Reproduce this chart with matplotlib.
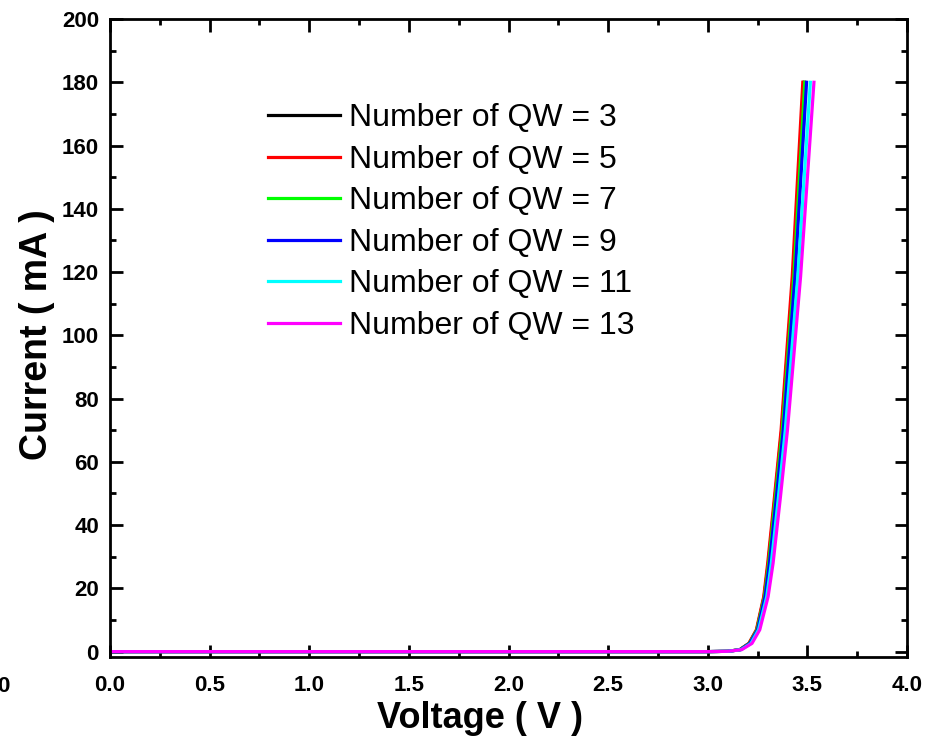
import matplotlib

matplotlib.use("Agg")

import matplotlib.pyplot as plt  # noqa: E402
from matplotlib.ticker import MultipleLocator  # noqa: E402

# current levels (mA) shared by all curves
current_ma = [0, 0, 0.1, 0.6, 2.6, 6.9, 17.4, 28, 49, 70, 118.6, 180]

# voltage (V) at those current levels
v_qw3 = [0, 3.0, 3.10, 3.161, 3.208, 3.246, 3.283, 3.304, 3.338, 3.371, 3.428, 3.483]
v_qw5 = [0, 3.0, 3.10, 3.160, 3.206, 3.244, 3.281, 3.301, 3.335, 3.368, 3.424, 3.477]
v_qw7 = [0, 3.0, 3.10, 3.162, 3.209, 3.247, 3.285, 3.306, 3.340, 3.374, 3.432, 3.487]
v_qw9 = [0, 3.0, 3.10, 3.163, 3.211, 3.250, 3.288, 3.310, 3.345, 3.379, 3.438, 3.496]
v_qw11 = [0, 3.0, 3.10, 3.167, 3.217, 3.255, 3.296, 3.319, 3.355, 3.389, 3.452, 3.515]
v_qw13 = [0, 3.0, 3.10, 3.170, 3.222, 3.261, 3.303, 3.328, 3.365, 3.400, 3.466, 3.533]

labels = [
    "Number of QW = 3",
    "Number of QW = 5",
    "Number of QW = 7",
    "Number of QW = 9",
    "Number of QW = 11",
    "Number of QW = 13",
]
colors = ["#000000", "#ff0000", "#00ff00", "#0000ff", "#00ffff", "#ff00ff"]
series = [v_qw3, v_qw5, v_qw7, v_qw9, v_qw11, v_qw13]

_FONT = "Liberation Sans"

fig = plt.figure(figsize=(9.31, 7.42), dpi=100)
ax = fig.add_axes([110 / 931, 1 - 657 / 742, 797 / 931, 638 / 742])

for v, lab, c in zip(series, labels, colors):
    ax.plot(v, current_ma, color=c, linewidth=2.3, label=lab)

ax.set_xlim(0, 4)
ax.set_ylim(-1.7, 200)
ax.xaxis.set_major_locator(MultipleLocator(0.5))
ax.xaxis.set_minor_locator(MultipleLocator(0.25))
ax.yaxis.set_major_locator(MultipleLocator(20))
ax.yaxis.set_minor_locator(MultipleLocator(10))
ax.xaxis.set_major_formatter(plt.FormatStrFormatter("%.1f"))

for side in ax.spines.values():
    side.set_linewidth(2.0)

ax.tick_params(which="both", direction="in", top=True, right=True, width=2.0)
ax.tick_params(which="major", length=9)
ax.tick_params(which="minor", length=4.5)
ax.tick_params(axis="x", which="major", pad=13)
ax.tick_params(axis="y", which="major", pad=8)
for lab in ax.get_xticklabels() + ax.get_yticklabels():
    lab.set_fontfamily(_FONT)
    lab.set_fontweight("bold")
    lab.set_fontsize(16)

ax.set_xlabel("Voltage ( V )", fontfamily=_FONT, fontweight="bold", fontsize=26)
ax.xaxis.label.set_va("center")
ax.xaxis.set_label_coords((480 - 110) / 797, -(718 - 657) / 638)
ax.set_ylabel("Current ( mA )", fontfamily=_FONT, fontweight="bold", fontsize=27)
ax.yaxis.label.set_va("center")
ax.yaxis.set_label_coords(-(110 - 37) / 797, (657 - 335) / 638)

leg = ax.legend(
    loc="upper left",
    bbox_to_anchor=(0.198, 0.868),
    frameon=False,
    prop={"family": _FONT, "size": 23},
    handlelength=2.25,
    handletextpad=0.3,
    labelspacing=0.36,
    borderpad=0,
    borderaxespad=0,
)
for h in leg.get_lines():
    h.set_linewidth(2.3)

fig.text(9 / 931, 1 - 686 / 742, "0", ha="right", va="center",
         fontfamily=_FONT, fontweight="bold", fontsize=16)

fig.savefig("out.png", dpi=100, facecolor="white")
